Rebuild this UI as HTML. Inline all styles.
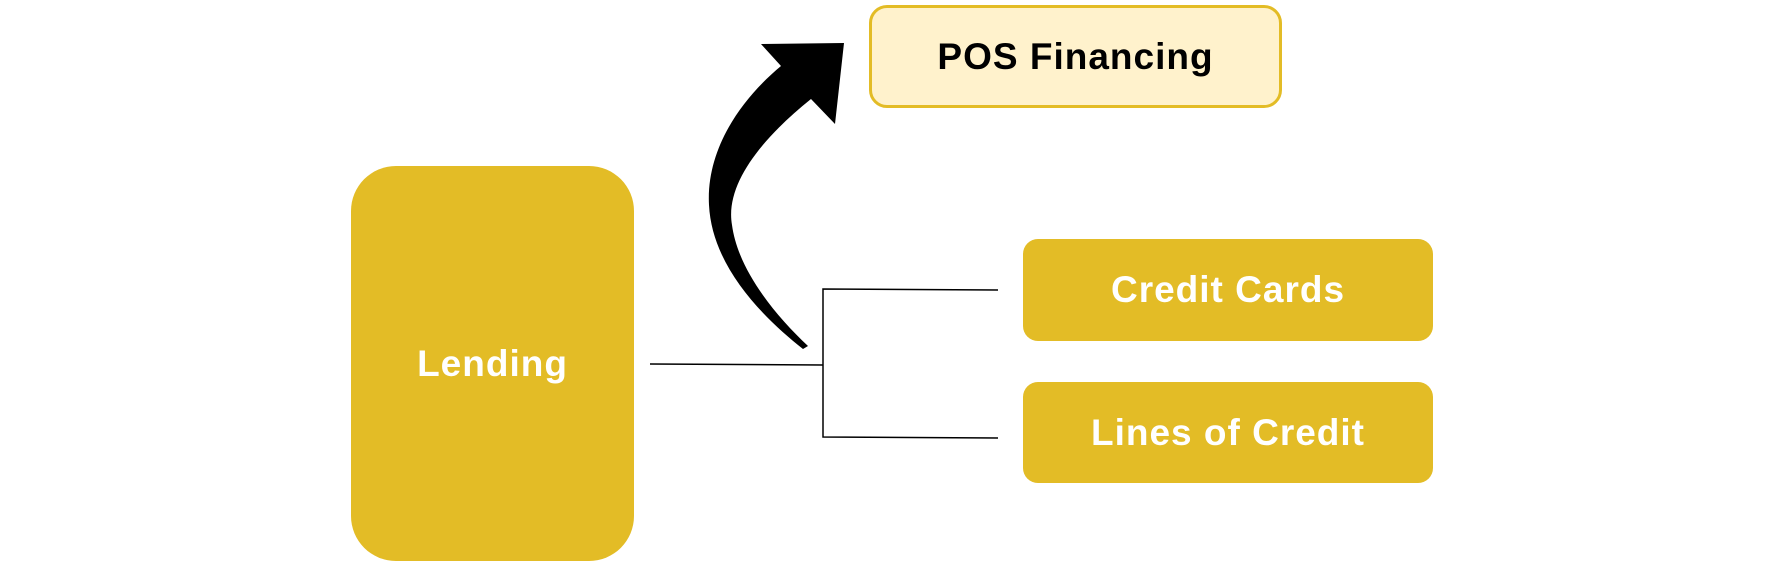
<!DOCTYPE html>
<html><head><style>
body{margin:0;width:1782px;height:564px;background:#fff;position:relative;overflow:hidden;font-family:"Liberation Sans",Arial,sans-serif;font-weight:bold}
.b{position:absolute;display:flex;align-items:center;justify-content:center;box-sizing:border-box;font-size:37px;letter-spacing:1px}
</style></head><body>
<div class="b" style="left:351px;top:166px;width:283px;height:395px;background:#e3bc26;border-radius:45px;color:#fff">Lending</div>
<div class="b" style="left:869px;top:5px;width:413px;height:103px;background:#fff2cc;border:3px solid #e3bc26;border-radius:18px;color:#000">POS Financing</div>
<div class="b" style="left:1023px;top:239px;width:410px;height:102px;background:#e3bc26;border-radius:15px;color:#fff">Credit Cards</div>
<div class="b" style="left:1023px;top:382px;width:410px;height:101px;background:#e3bc26;border-radius:15px;color:#fff">Lines of Credit</div>
<svg width="1782" height="564" style="position:absolute;left:0;top:0">
<g stroke="#000" stroke-width="1.5" fill="none">
<path d="M650 364 L823 365"/>
<path d="M998 290 L823 289 L823 437 L998 438"/>
</g>
<path fill="#000" d="M781 66 L761 44 L844 43 L835 124 L811 99 C760 140 725 185 732 225 C738 270 775 315 808 346 L803 349 C760 315 712 265 709 205 C706 150 740 100 781 66 Z"/>
</svg>
</body></html>
